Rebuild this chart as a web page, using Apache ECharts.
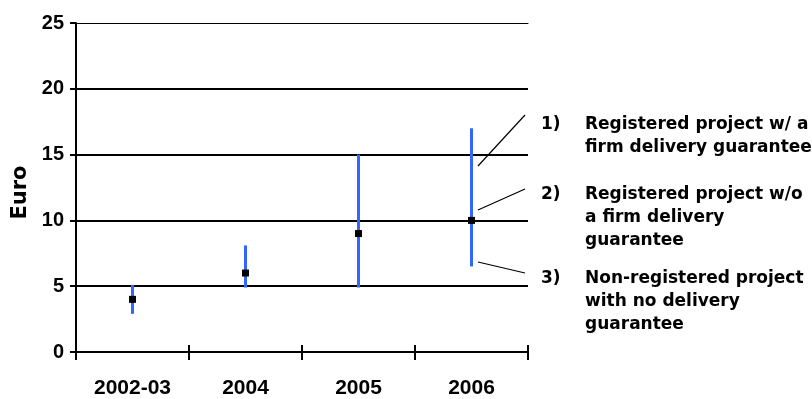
<!DOCTYPE html>
<html>
<head>
<meta charset="utf-8">
<script src="https://cdn.jsdelivr.net/npm/echarts@6/dist/echarts.min.js"></script>
<style>
html,body{margin:0;padding:0;background:#fff;}
#chart{width:812px;height:399px;}
</style>
</head>
<body>
<div id="chart"></div>
<script>
var categories = ['2002-03', '2004', '2005', '2006'];
var midValues = [4, 6, 9, 10];
var lowValues = [2.9, 4.9, 4.9, 6.5];
var highValues = [5.1, 8.1, 15, 17];
var yTicks = [0, 5, 10, 15, 20, 25];
var yAxisName = 'Euro';
var notes = [
  {num: '1)', lines: ['Registered project w/ a', 'firm delivery guarantee']},
  {num: '2)', lines: ['Registered project w/o', 'a firm delivery', 'guarantee']},
  {num: '3)', lines: ['Non-registered project', 'with no delivery', 'guarantee']}
];

var tickFont = '"Liberation Sans Narrow", "Arial Narrow", "Liberation Sans", Arial, sans-serif';
var noteFont = '"DejaVu Sans", Verdana, sans-serif';

var chart = echarts.init(document.getElementById('chart'), null, {renderer: 'canvas'});

var rangeData = categories.map(function (c, i) { return [i, lowValues[i], highValues[i]]; });
var pointData = categories.map(function (c, i) { return [i, midValues[i]]; });

var graphics = [];
var noteTops = [126, 196, 280];
var lineH = 23;
notes.forEach(function (n, k) {
  graphics.push({type: 'text', left: 541, top: noteTops[k] - 10,
    style: {text: n.num, font: 'bold 17px ' + noteFont, fill: '#000'}});
  n.lines.forEach(function (t, j) {
    graphics.push({type: 'text', left: 585, top: noteTops[k] - 10 + j * lineH,
      style: {text: t, font: 'bold 17px ' + noteFont, fill: '#000'}});
  });
});
var leaders = [[478, 166, 525, 115], [478, 210, 525, 189], [478, 262, 525, 273]];
leaders.forEach(function (l) {
  graphics.push({type: 'line', shape: {x1: l[0], y1: l[1], x2: l[2], y2: l[3]},
    style: {stroke: '#000', lineWidth: 1.2}});
});

var option = {
  animation: false,
  backgroundColor: '#fff',
  grid: {left: 76, right: 284, top: 23, bottom: 46, containLabel: false},
  xAxis: [{
    type: 'category',
    data: categories,
    boundaryGap: true,
    position: 'bottom',
    axisLine: {show: true, onZero: false, lineStyle: {color: '#000', width: 2}},
    axisTick: {show: true, inside: false, length: 8, alignWithLabel: false, lineStyle: {color: '#000', width: 2}},
    axisLabel: {margin: 26, color: '#000', fontFamily: tickFont, fontWeight: 'bold', fontSize: 21},
    splitLine: {show: false}
  }, {
    type: 'category',
    data: categories,
    boundaryGap: true,
    position: 'bottom',
    offset: -7,
    axisLine: {show: false, onZero: false},
    axisTick: {show: true, inside: false, length: 15, lineStyle: {color: '#000', width: 2}},
    axisLabel: {show: false},
    splitLine: {show: false}
  }, {
    type: 'category',
    data: categories,
    position: 'top',
    axisLine: {show: true, onZero: false, lineStyle: {color: '#000', width: 1}},
    axisTick: {show: false},
    axisLabel: {show: false}
  }],
  yAxis: {
    type: 'value',
    min: 0, max: 25, interval: 5,
    name: yAxisName,
    nameLocation: 'middle',
    nameGap: 44,
    nameRotate: 90,
    nameTextStyle: {color: '#000', fontFamily: '"DejaVu Sans", sans-serif', fontWeight: 'bold', fontSize: 21, padding: [0, 10, 0, 0]},
    axisLine: {show: true, onZero: false, lineStyle: {color: '#000', width: 2}},
    axisTick: {show: true, inside: false, length: 6, lineStyle: {color: '#000', width: 2}},
    axisLabel: {margin: 12, color: '#000', fontFamily: tickFont, fontWeight: 'bold', fontSize: 20},
    splitLine: {show: true, lineStyle: {color: ['#000', '#000', '#000', '#000', '#000', 'rgba(0,0,0,0)'], width: 2}}
  },
  series: [{
    type: 'custom',
    xAxisIndex: 0,
    data: rangeData,
    renderItem: function (params, api) {
      var p1 = api.coord([api.value(0), api.value(1)]);
      var p2 = api.coord([api.value(0), api.value(2)]);
      return {type: 'line', shape: {x1: p1[0], y1: p1[1], x2: p2[0], y2: p2[1]},
        style: {stroke: '#3366FF', lineWidth: 3}};
    },
    z: 3
  }, {
    type: 'scatter',
    xAxisIndex: 0,
    data: pointData,
    symbol: 'rect',
    symbolSize: 7,
    itemStyle: {color: '#000', opacity: 1},
    z: 4
  }, {
    type: 'line',
    xAxisIndex: 1,
    data: [],
    silent: true
  }, {
    type: 'line',
    xAxisIndex: 2,
    data: [],
    silent: true
  }],
  graphic: graphics
};
chart.setOption(option);
</script>
</body>
</html>
